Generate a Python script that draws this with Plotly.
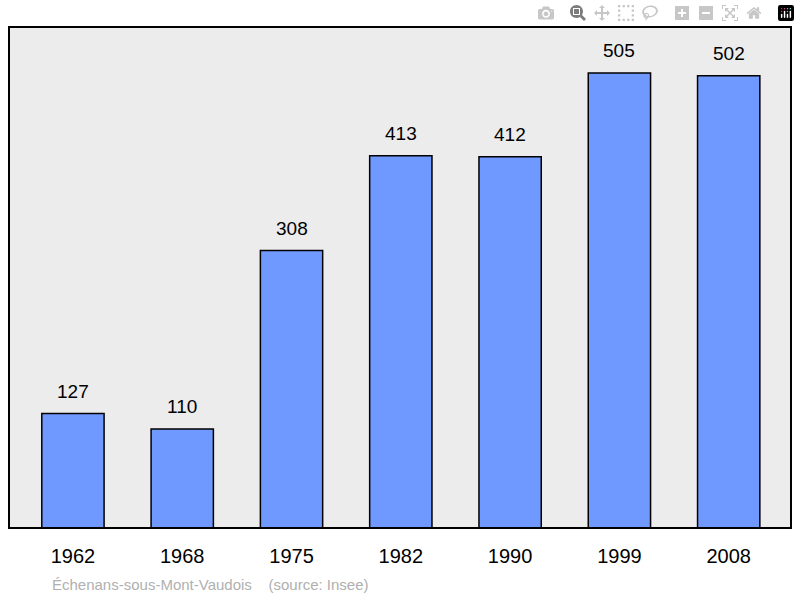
import plotly.graph_objects as go

years = ["1962", "1968", "1975", "1982", "1990", "1999", "2008"]
population = [127, 110, 308, 413, 412, 505, 502]

xs = list(range(len(years)))
fig = go.Figure(go.Bar(
    x=xs, y=population, width=0.57,
    marker=dict(color="#7099ff", line=dict(color="black", width=1.5)),
))
for x, v in zip(xs, population):
    fig.add_annotation(x=x, y=v, text=str(v), showarrow=False, yanchor="middle",
                       yshift=22, font=dict(size=19, color="black"))
fig.add_annotation(text="Échenans-sous-Mont-Vaudois &nbsp;&nbsp; (source: Insee)",
                   xref="paper", yref="paper", x=0.052, y=-0.112, xanchor="left",
                   yanchor="middle", showarrow=False,
                   font=dict(size=15, color="#b0b0b0"))
fig.update_layout(
    width=800, height=598,
    margin=dict(l=9, r=9, t=27, b=70, autoexpand=False),
    paper_bgcolor="white", plot_bgcolor="#ececec",
    font=dict(family="Liberation Sans"),
    showlegend=False,
    xaxis=dict(range=[-0.585, 6.57], tickvals=xs, ticktext=years,
               tickfont=dict(size=20, color="black"), showgrid=False, zeroline=False,
               ticks="", ticklabelstandoff=14),
    yaxis=dict(range=[0, 556], visible=False, showgrid=False),
    shapes=[dict(type="rect", xref="paper", yref="paper", x0=0, x1=1, y0=0, y1=1,
                 line=dict(color="black", width=2))],
)
fig.write_html("out.html", post_script="document.body.style.margin='0';")
